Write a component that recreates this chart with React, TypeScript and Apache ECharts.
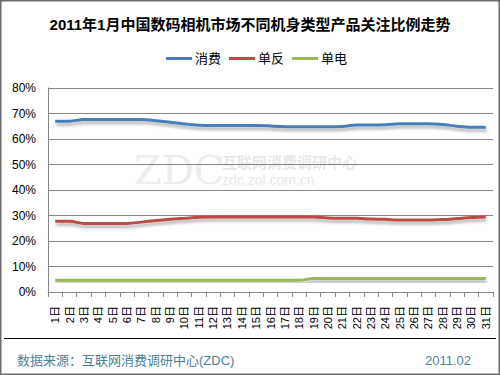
import React, { useEffect, useRef } from "react";
import * as echarts from "echarts";

const days = Array.from({ length: 31 }, (_, i) => `${i + 1}日`);
const seriesNames = ["消费", "单反", "单电"];
const consumer = [67, 67, 67.6, 67.6, 67.6, 67.6, 67.6, 67.2, 66.6, 65.9, 65.4, 65.3, 65.3, 65.3, 65.3, 65.1, 64.8, 64.8, 64.8, 64.8, 64.9, 65.5, 65.5, 65.6, 66, 66, 66, 65.7, 65, 64.6, 64.6];
const dslr = [27.7, 27.7, 26.9, 26.9, 26.9, 26.9, 27.4, 28, 28.5, 28.9, 29.3, 29.4, 29.4, 29.4, 29.4, 29.4, 29.4, 29.4, 29.4, 29, 28.9, 28.9, 28.6, 28.5, 28.2, 28.2, 28.2, 28.4, 28.8, 29.2, 29.4];
const mirrorless = [4.6, 4.6, 4.6, 4.6, 4.6, 4.6, 4.6, 4.6, 4.6, 4.6, 4.6, 4.6, 4.6, 4.6, 4.6, 4.6, 4.6, 4.6, 5.3, 5.3, 5.3, 5.3, 5.3, 5.3, 5.3, 5.3, 5.3, 5.3, 5.3, 5.3, 5.3];
const yTicks = [0, 10, 20, 30, 40, 50, 60, 70, 80];
const colors = ["#4a7ebb", "#be4b48", "#98b954"];
const titleText = "2011年1月中国数码相机市场不同机身类型产品关注比例走势";
const sourceText = "数据来源：互联网消费调研中心(ZDC)";
const dateText = "2011.02";

export default function App() {
  const ref = useRef<HTMLDivElement>(null);
  useEffect(() => {
    if (!ref.current) return;
    const chart = echarts.init(ref.current, null, { renderer: "svg" });
    const font = "Arial, 'Liberation Sans', 'Noto Sans CJK SC', sans-serif";
    const data = [consumer, dslr, mirrorless];
    chart.setOption({
      animation: false,
      backgroundColor: "#ffffff",
      title: {
        text: titleText,
        left: "center",
        top: 12,
        textStyle: { fontSize: 15, fontWeight: "bold", color: "#000", fontFamily: font },
      },
      legend: {
        data: seriesNames,
        left: 161,
        top: 47,
        itemWidth: 26,
        itemHeight: 3,
        itemGap: 8,
        icon: "rect",
        textStyle: { fontSize: 13, color: "#000", fontFamily: font, padding: [0, 0, 0, -2] },
      },
      grid: { left: 48, right: 7, top: 88, bottom: 83, containLabel: false },
      xAxis: {
        type: "category",
        data: days,
        boundaryGap: true,
        axisLine: { lineStyle: { color: "#868686", width: 1 } },
        axisTick: { show: true, length: 5, lineStyle: { color: "#868686" } },
        axisLabel: { rotate: 90, fontSize: 11, color: "#000", fontFamily: font, margin: 14, interval: 0 },
      },
      yAxis: {
        type: "value",
        min: 0,
        max: 80,
        interval: 10,
        axisLine: { show: true, lineStyle: { color: "#868686", width: 1 } },
        axisTick: { show: false },
        splitLine: { lineStyle: { color: "#868686", width: 1 } },
        axisLabel: { formatter: "{value}%", fontSize: 12, color: "#000", fontFamily: font, margin: 12 },
      },
      graphic: [
        { type: "rect", shape: { x: 0.5, y: 0.5, width: 499, height: 374 }, style: { fill: "none", stroke: "#6b6b6b", lineWidth: 2 }, z: 10 },
        { type: "line", shape: { x1: 4, y1: 338.5, x2: 496, y2: 338.5 }, style: { stroke: "#000", lineWidth: 1 } },
        { type: "text", left: 17, top: 354, style: { text: sourceText, fontSize: 13, fill: "#4e8098", fontFamily: font } },
        { type: "text", left: 425, top: 354, style: { text: dateText, fontSize: 13, fill: "#4e8098", fontFamily: font } },
        { type: "text", left: 134, top: 150, z: -1, style: { text: "ZDC", fontSize: 40, fill: "#ededed", fontFamily: "'DejaVu Serif', serif" } },
        { type: "text", left: 222, top: 155, z: -1, style: { text: "互联网消费调研中心", fontSize: 15, fontWeight: "bold", fill: "#e8e8e8", fontFamily: font } },
        { type: "text", left: 222, top: 173, z: -1, style: { text: "zdc.zol.com.cn", fontSize: 14, fill: "#e8e8e8", fontFamily: font } },
      ],
      series: seriesNames.map((name, i) => ({
        name,
        type: "line",
        data: data[i],
        smooth: 0.35,
        showSymbol: false,
        symbol: "none",
        color: colors[i],
        lineStyle: {
          color: colors[i],
          width: 3,
          shadowColor: "rgba(0,0,0,0.3)",
          shadowBlur: 3,
          shadowOffsetY: 3,
          shadowOffsetX: 1,
        },
      })),
    });
    return () => chart.dispose();
  }, []);
  return (
    <div
      ref={ref}
      style={{ position: "fixed", left: 0, top: 0, width: 500, height: 375 }}
    />
  );
}
